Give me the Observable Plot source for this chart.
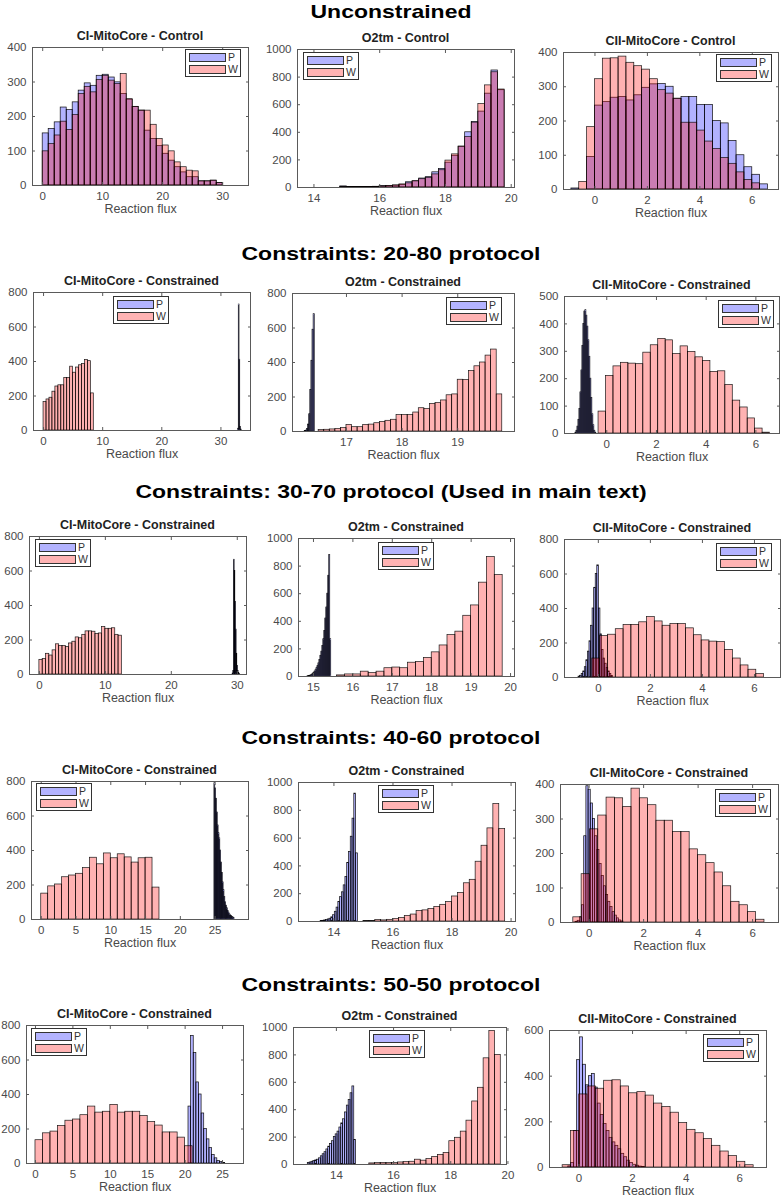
<!DOCTYPE html>
<html><head><meta charset="utf-8">
<script src="https://cdn.jsdelivr.net/npm/d3@7"></script>
<script src="https://cdn.jsdelivr.net/npm/@observablehq/plot@0.6"></script>
<style>
body{margin:0;background:#fff;}
#page{position:relative;width:782px;height:1200px;overflow:hidden;background:#fff;font-family:"Liberation Sans",Arial,Helvetica,sans-serif;}
.sec{position:absolute;left:0;width:782px;text-align:center;font-weight:bold;font-size:23px;line-height:23px;transform:scaleY(0.83);color:#000;white-space:nowrap;}
.ptitle{position:absolute;text-align:center;font-weight:bold;font-size:12.5px;line-height:14px;color:#222;white-space:nowrap;}
.leg{position:absolute;width:56px;height:28px;border:1px solid #333;background:#fff;box-sizing:border-box;}
.sw{position:absolute;left:3px;width:37px;height:9px;border:1.5px solid #333;box-sizing:border-box;}
.lab{position:absolute;left:42px;font-size:10.5px;line-height:11px;color:#333;}
</style></head>
<body><div id="page"></div>
<script>
// ---------- titles ----------
const sectionTitles = ["Unconstrained","Constraints: 20-80 protocol","Constraints: 30-70 protocol (Used in main text)","Constraints: 40-60 protocol","Constraints: 50-50 protocol"];
const rowTitles = [
  ["CI-MitoCore - Control","O2tm - Control","CII-MitoCore - Control"],
  ["CI-MitoCore - Constrained","O2tm - Constrained","CII-MitoCore - Constrained"],
  ["CI-MitoCore - Constrained","O2tm - Constrained","CII-MitoCore - Constrained"],
  ["CI-MitoCore - Constrained","O2tm - Constrained","CII-MitoCore - Constrained"],
  ["CI-MitoCore - Constrained","O2tm - Constrained","CII-MitoCore - Constrained"]
];
const seriesNames = ["P","W"];
const xLabel = "Reaction flux";

// ---------- data: [bin start, bin width] and counts ----------
// Row 1: Unconstrained
const ciCtrlPBin=[0,1];   const ciCtrlP=[151,164,183,226,219,241,275,296,289,318,321,313,299,265,249,228,217,159,135,114,92,72,53,38,24,24,12,12,14,7];
const ciCtrlWBin=[0,1];   const ciCtrlW=[99,120,145,185,161,204,265,286,270,306,318,304,294,323,250,228,217,217,176,135,116,99,67,53,43,41,12,12,14,7];
const o2CtrlPBin=[14.8,0.2]; const o2CtrlP=[8,3,3,3,4,5,10,10,14,20,38,45,65,75,110,135,180,230,296,400,475,550,680,848,705];
const o2CtrlWBin=[14.8,0.2]; const o2CtrlW=[3,3,3,3,4,5,8,12,15,22,30,45,60,70,95,125,195,240,296,365,470,605,740,835,710];
const ciiCtrlPBin=[-0.9,0.3]; const ciiCtrlP=[3,0,95,245,255,268,270,260,275,297,307,308,300,265,270,270,247,247,200,193,142,100,65,43,15];
const ciiCtrlWBin=[-0.9,0.3]; const ciiCtrlW=[0,22,182,322,382,383,388,370,360,350,322,290,280,265,195,195,172,140,118,92,75,50,28,18,0];
// Row 2: 20-80
const ci2080PBin=[32.9,0.12]; const ci2080P=[10,730,410,20,5];
const ci2080WBin=[0,0.5]; const ci2080W=[165,180,190,225,255,262,262,305,305,370,335,365,378,385,408,402,215];
const o22080PBin=[16.25,0.02]; const o22080P=[3,5,15,40,100,240,410,590,680];
const o22080WBin=[16.5,0.1]; const o22080W=[8,10,12,15,20,38,25,25,38,40,48,55,62,68,95,95,95,110,135,130,160,165,180,210,215,300,298,350,378,400,440,475,215];
const cii2080PBin=[-1.26,0.04]; const cii2080P=[3,10,25,50,90,150,230,320,400,445,450,430,390,340,280,200,130,70,30,10,3];
const cii2080WBin=[-0.33,0.3]; const cii2080W=[80,210,245,258,255,253,295,322,345,340,290,318,298,278,265,225,227,177,120,95,55,18,3];
// Row 3: 30-70
const ci3070PBin=[29.3,0.1]; const ci3070P=[5,20,665,600,420,260,120,50,20,8,3];
const ci3070WBin=[0,0.5]; const ci3070W=[85,90,120,110,140,175,165,165,160,180,190,215,210,230,250,250,248,235,238,275,265,265,268,230,225];
const o23070PBin=[14.85,0.025]; const o23070P=[2,3,5,8,12,18,25,35,45,60,75,95,120,150,180,220,270,330,420,500,600,730,880,270];
const o23070WBin=[15.6,0.2]; const o23070W=[8,15,15,35,25,35,60,65,60,100,105,135,175,225,300,325,440,515,680,865,735];
const cii3070PBin=[-0.76,0.06]; const cii3070P=[5,10,20,35,60,100,150,210,300,400,520,600,650,400,250,160,110,80,55,35,20,8];
const cii3070WBin=[-0.23,0.3]; const cii3070W=[110,240,248,280,305,305,320,350,325,300,310,310,285,245,215,208,205,160,110,70,45,20];
// Row 4: 40-60
const ci4060PBin=[24.9,0.12]; const ci4060P=[790,760,700,620,545,500,470,400,330,270,215,170,130,100,80,65,50,40,30,25,20,15,12,8];
const ci4060WBin=[0,1]; const ci4060W=[150,192,203,245,255,265,298,358,320,383,355,378,360,330,355,358,185];
const o24060PBin=[13.55,0.06]; const o24060P=[3,5,8,10,15,20,30,45,70,100,140,175,210,260,320,420,500,610,740,920,490];
const o24060WBin=[15.0,0.2]; const o24060W=[3,3,10,8,12,18,25,40,50,75,80,90,105,120,140,180,205,275,300,430,545,670,845,665];
const cii4060PBin=[-0.5,0.08]; const cii4060P=[2,5,15,50,250,395,385,345,300,250,210,170,135,105,80,60,45,30,20,12,6,3];
const cii4060WBin=[-0.58,0.305]; const cii4060W=[15,140,270,310,362,360,335,388,360,340,295,295,262,262,212,195,172,145,105,60,50,30,8];
// Row 5: 50-50
const ci5050PBin=[20.45,0.35]; const ci5050P=[330,740,640,470,400,290,200,140,90,50,30,15,8,3];
const ci5050WBin=[0,1]; const ci5050W=[135,175,185,218,248,255,280,330,295,300,340,295,300,300,275,240,220,180,180,150,100];
const o25050PBin=[13.0,0.065]; const o25050P=[12,15,20,25,30,35,45,60,75,90,110,130,150,170,200,220,240,270,300,330,380,430,470,520,570,180];
const o25050WBin=[15.15,0.2]; const o25050W=[8,10,12,10,10,15,18,20,35,28,40,55,70,85,170,195,240,320,460,560,775,975,800];
const cii5050PBin=[-0.4,0.11]; const cii5050P=[5,20,160,470,570,450,360,400,410,350,280,230,190,160,130,110,95,80,60,45,30,20,12,8,4,2];
const cii5050WBin=[-0.61,0.31]; const cii5050W=[10,160,320,355,345,380,382,355,325,330,315,280,265,240,195,165,150,125,95,70,50,25,10];

// ---------- axis domains & ticks ----------
const ciTicks30=[0,10,20,30], ciTicks25=[0,5,10,15,20,25], ciiTicks=[0,2,4,6];
const o2Ticks14=[14,16,18,20], o2Ticks17=[17,18,19], o2Ticks15=[15,16,17,18,19,20];
const y400=[0,100,200,300,400], y500=[0,100,200,300,400,500], y600=[0,200,400,600], y800=[0,200,400,600,800], y1000=[0,200,400,600,800,1000];

// ---------- layout (frame box L,T,R,B ; legend left,top) ----------
const sectionTops=[0,242,480,726,973];
const panels = [
  {P:[ciCtrlPBin,ciCtrlP],W:[ciCtrlWBin,ciCtrlW],xd:[-1.7,34.3],xt:ciTicks30,yt:y400,box:[32,47,248,185],leg:[185,49]},
  {P:[o2CtrlPBin,o2CtrlP],W:[o2CtrlWBin,o2CtrlW],xd:[13.5,20.1],xt:o2Ticks14,yt:y1000,box:[297,49,514,187],leg:[303,52]},
  {P:[ciiCtrlPBin,ciiCtrlP],W:[ciiCtrlWBin,ciiCtrlW],xd:[-1.2,7.0],xt:ciiTicks,yt:y400,box:[563,52,778,189],leg:[716,54]},
  {P:[ci2080PBin,ci2080P],W:[ci2080WBin,ci2080W],xd:[-1.7,35],xt:ciTicks30,yt:y800,box:[33,292,250,430],leg:[113,296]},
  {P:[o22080PBin,o22080P],W:[o22080WBin,o22080W],xd:[16.03,20.02],xt:o2Ticks17,yt:y800,box:[292,293,514,431],leg:[446,297]},
  {P:[cii2080PBin,cii2080P],W:[cii2080WBin,cii2080W],xd:[-1.7,6.95],xt:ciiTicks,yt:y500,box:[564,296,779,433],leg:[718,300]},
  {P:[ci3070PBin,ci3070P],W:[ci3070WBin,ci3070W],xd:[-1.5,31.4],xt:ciTicks30,yt:y800,box:[29,536,246,674],leg:[35,539]},
  {P:[o23070PBin,o23070P],W:[o23070WBin,o23070W],xd:[14.62,20.1],xt:o2Ticks15,yt:y1000,box:[298,538,514,676],leg:[378,542]},
  {P:[cii3070PBin,cii3070P],W:[cii3070WBin,cii3070W],xd:[-1.3,7.0],xt:ciiTicks,yt:y800,box:[564,539,780,677],leg:[716,543]},
  {P:[ci4060PBin,ci4060P],W:[ci4060WBin,ci4060W],xd:[-1.4,29.8],xt:ciTicks25,yt:y800,box:[31,781,248,919],leg:[36,783]},
  {P:[o24060PBin,o24060P],W:[o24060WBin,o24060W],xd:[12.8,20.15],xt:o2Ticks14,yt:y1000,box:[298,782,515,921],leg:[378,785]},
  {P:[cii4060PBin,cii4060P],W:[cii4060WBin,cii4060W],xd:[-1.05,6.95],xt:ciiTicks,yt:y400,box:[560,784,778,922],leg:[715,789]},
  {P:[ci5050PBin,ci5050P],W:[ci5050WBin,ci5050W],xd:[-1.2,27.8],xt:ciTicks25,yt:y800,box:[26,1025,243,1163],leg:[31,1028]},
  {P:[o25050PBin,o25050P],W:[o25050WBin,o25050W],xd:[12.5,19.95],xt:o2Ticks14,yt:y1000,box:[293,1027,506,1164],leg:[369,1030]},
  {P:[cii5050PBin,cii5050P],W:[cii5050WBin,cii5050W],xd:[-1.1,7.0],xt:ciiTicks,yt:y600,box:[549,1030,766,1167],leg:[703,1034]}
];

const pFill="#0000ff", wFill="#ff0000", alpha=0.3;
const pSw="rgb(179,179,255)", wSw="rgb(255,179,179)";

function bins([start,width],counts){
  return counts.map((c,i)=>({x1:start+i*width, x2:start+(i+1)*width, y:c}));
}

const page=document.getElementById("page");
sectionTitles.forEach((t,i)=>{
  const d=document.createElement("div"); d.className="sec"; d.textContent=t;
  d.style.top=sectionTops[i]+"px"; page.appendChild(d);
});

const fmt = d => String(d);
const mL=36,mR=8,mT=6,mB=36;
panels.forEach((p,idx)=>{
  const [L,T,R,B]=p.box;
  const row=Math.floor(idx/3), col=idx%3;
  const svg=Plot.plot({
    width:R-L+mL+mR, height:B-T+mT+mB,
    marginLeft:mL, marginRight:mR, marginTop:mT, marginBottom:mB,
    style:{background:"transparent",overflow:"visible",fontFamily:"'Liberation Sans',Arial,sans-serif",fontSize:"11.5px",color:"#4a4a4a"},
    x:{domain:p.xd}, y:{domain:[0,p.yt[p.yt.length-1]]},
    marks:[
      Plot.rectY(bins(...p.P),{x1:"x1",x2:"x2",y:"y",fill:pFill,fillOpacity:alpha,stroke:"#000",strokeWidth:0.7,strokeOpacity:0.95}),
      Plot.rectY(bins(...p.W),{x1:"x1",x2:"x2",y:"y",fill:wFill,fillOpacity:alpha,stroke:"#000",strokeWidth:0.7,strokeOpacity:0.9}),
      Plot.frame({stroke:"#5a5a5a",strokeWidth:1}),
      Plot.axisX(p.xt,{anchor:"bottom",tickSize:0,tickPadding:6,label:null,tickFormat:fmt}),
      Plot.axisY(p.yt,{anchor:"left",tickSize:0,tickPadding:6,label:null,tickFormat:fmt}),
      Plot.axisX(p.xt,{anchor:"bottom",tickSize:-3,tickFormat:()=>"",label:null,stroke:"#5a5a5a"}),
      Plot.axisX(p.xt,{anchor:"top",tickSize:-3,tickFormat:()=>"",label:null,stroke:"#5a5a5a"}),
      Plot.axisY(p.yt,{anchor:"left",tickSize:-3,tickFormat:()=>"",label:null,stroke:"#5a5a5a"}),
      Plot.axisY(p.yt,{anchor:"right",tickSize:-3,tickFormat:()=>"",label:null,stroke:"#5a5a5a"}),
      Plot.text([xLabel],{frameAnchor:"bottom",dy:27,fontSize:12.5,fill:"#4a4a4a"})
    ]
  });
  svg.style.position="absolute";
  svg.style.left=(L-mL)+"px"; svg.style.top=(T-mT)+"px";
  page.appendChild(svg);

  const t=document.createElement("div"); t.className="ptitle";
  t.textContent=rowTitles[row][col];
  t.style.left=(L-20)+"px"; t.style.width=(R-L+40)+"px"; t.style.top=(T-18)+"px";
  page.appendChild(t);

  const lg=document.createElement("div"); lg.className="leg";
  lg.style.left=p.leg[0]+"px"; lg.style.top=p.leg[1]+"px";
  [pSw,wSw].forEach((c,k)=>{
    const s=document.createElement("div"); s.className="sw"; s.style.top=(3+k*12)+"px"; s.style.background=c; lg.appendChild(s);
    const l=document.createElement("div"); l.className="lab"; l.style.top=(2+k*12)+"px"; l.textContent=seriesNames[k]; lg.appendChild(l);
  });
  page.appendChild(lg);
});
</script></body></html>
